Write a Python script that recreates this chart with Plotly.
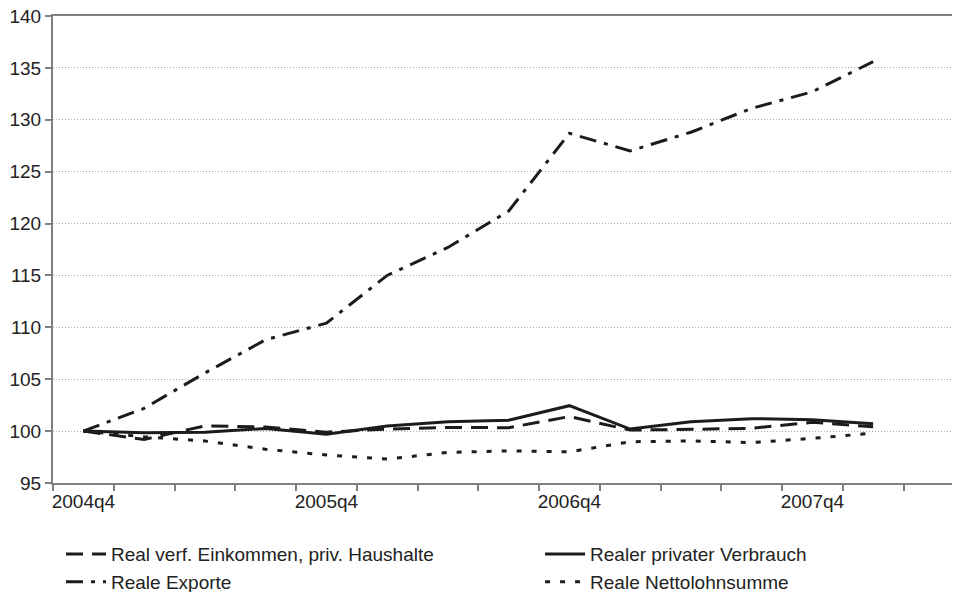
import plotly.graph_objects as go

quarters = ["2004q4", "2005q1", "2005q2", "2005q3", "2005q4", "2006q1", "2006q2",
            "2006q3", "2006q4", "2007q1", "2007q2", "2007q3", "2007q4", "2008q1", "2008q2"]
tick_labels = ["2004q4", "", "", "", "2005q4", "", "", "", "2006q4", "", "", "",
               "2007q4", "", ""]

einkommen = [100.0, 99.2, 100.5, 100.4, 99.9, 100.2, 100.35, 100.33, 101.4, 100.1,
             100.17, 100.27, 100.85, 100.42]
verbrauch = [100.0, 99.85, 99.9, 100.25, 99.7, 100.5, 100.9, 101.05, 102.45, 100.2,
             100.9, 101.2, 101.1, 100.7]
exporte = [100.0, 102.2, 105.6, 108.8, 110.4, 115.0, 117.7, 121.2, 128.7, 127.0,
           128.8, 131.1, 132.7, 135.6]
nettolohn = [100.0, 99.45, 99.05, 98.25, 97.7, 97.3, 97.95, 98.1, 98.0, 98.98,
             99.05, 98.9, 99.3, 99.8]

names = ["Real verf. Einkommen, priv. Haushalte", "Realer privater Verbrauch",
         "Reale Exporte", "Reale Nettolohnsumme"]

ink = "#1c1c1c"
fig = go.Figure()
series = [
    (einkommen, names[0], "17px,9px", "legend"),
    (verbrauch, names[1], "solid", "legend2"),
    (exporte, names[2], "17px,8px,4px,8px", "legend"),
    (nettolohn, names[3], "5px,10px", "legend2"),
]
for vals, name, dash, lg in series:
    fig.add_trace(go.Scatter(
        x=quarters[:len(vals)], y=vals, name=name, mode="lines",
        line=dict(color=ink, width=3, dash=dash),
        legend=lg, legendgroup=name,
    ))

legend_common = dict(
    orientation="v", xanchor="left", yref="container", y=0.0973, yanchor="top",
    font=dict(size=19, color="#222222"), tracegroupgap=0, itemwidth=40,
    bgcolor="rgba(0,0,0,0)",
)
# the page body adds an 8px offset, so the figure is 8px smaller than the window
fig.update_layout(
    width=952, height=584,
    margin=dict(l=45, r=0, t=8, b=109),
    paper_bgcolor="white", plot_bgcolor="white",
    font=dict(family="Liberation Sans, Arial, sans-serif", size=19, color="#222222"),
    showlegend=True,
    legend=dict(x=0.0088, **legend_common),
    legend2=dict(x=0.537, **legend_common),
)
fig.update_xaxes(
    type="category", categoryorder="array", categoryarray=quarters,
    range=[-0.5, 14.43], automargin=False, tickangle=0,
    tickmode="array", tickvals=quarters, ticktext=tick_labels,
    tickson="boundaries", ticks="outside", ticklen=6, tickcolor="#808080", tickwidth=1.5,
    showline=True, linecolor="#808080", linewidth=2, mirror=True,
    showgrid=False, zeroline=False, ticklabeloverflow="allow",
    tickfont=dict(size=19),
)
fig.update_yaxes(
    range=[95, 140], dtick=5, tick0=95, automargin=False,
    ticks="outside", ticklen=6, tickcolor="#808080", tickwidth=1.5,
    showline=True, linecolor="#808080", linewidth=2,
    showgrid=True, gridcolor="#a8a8a8", gridwidth=1, griddash="1px,2px",
    zeroline=False, ticklabeloverflow="allow", tickfont=dict(size=19),
)

fig.write_html("out.html")
